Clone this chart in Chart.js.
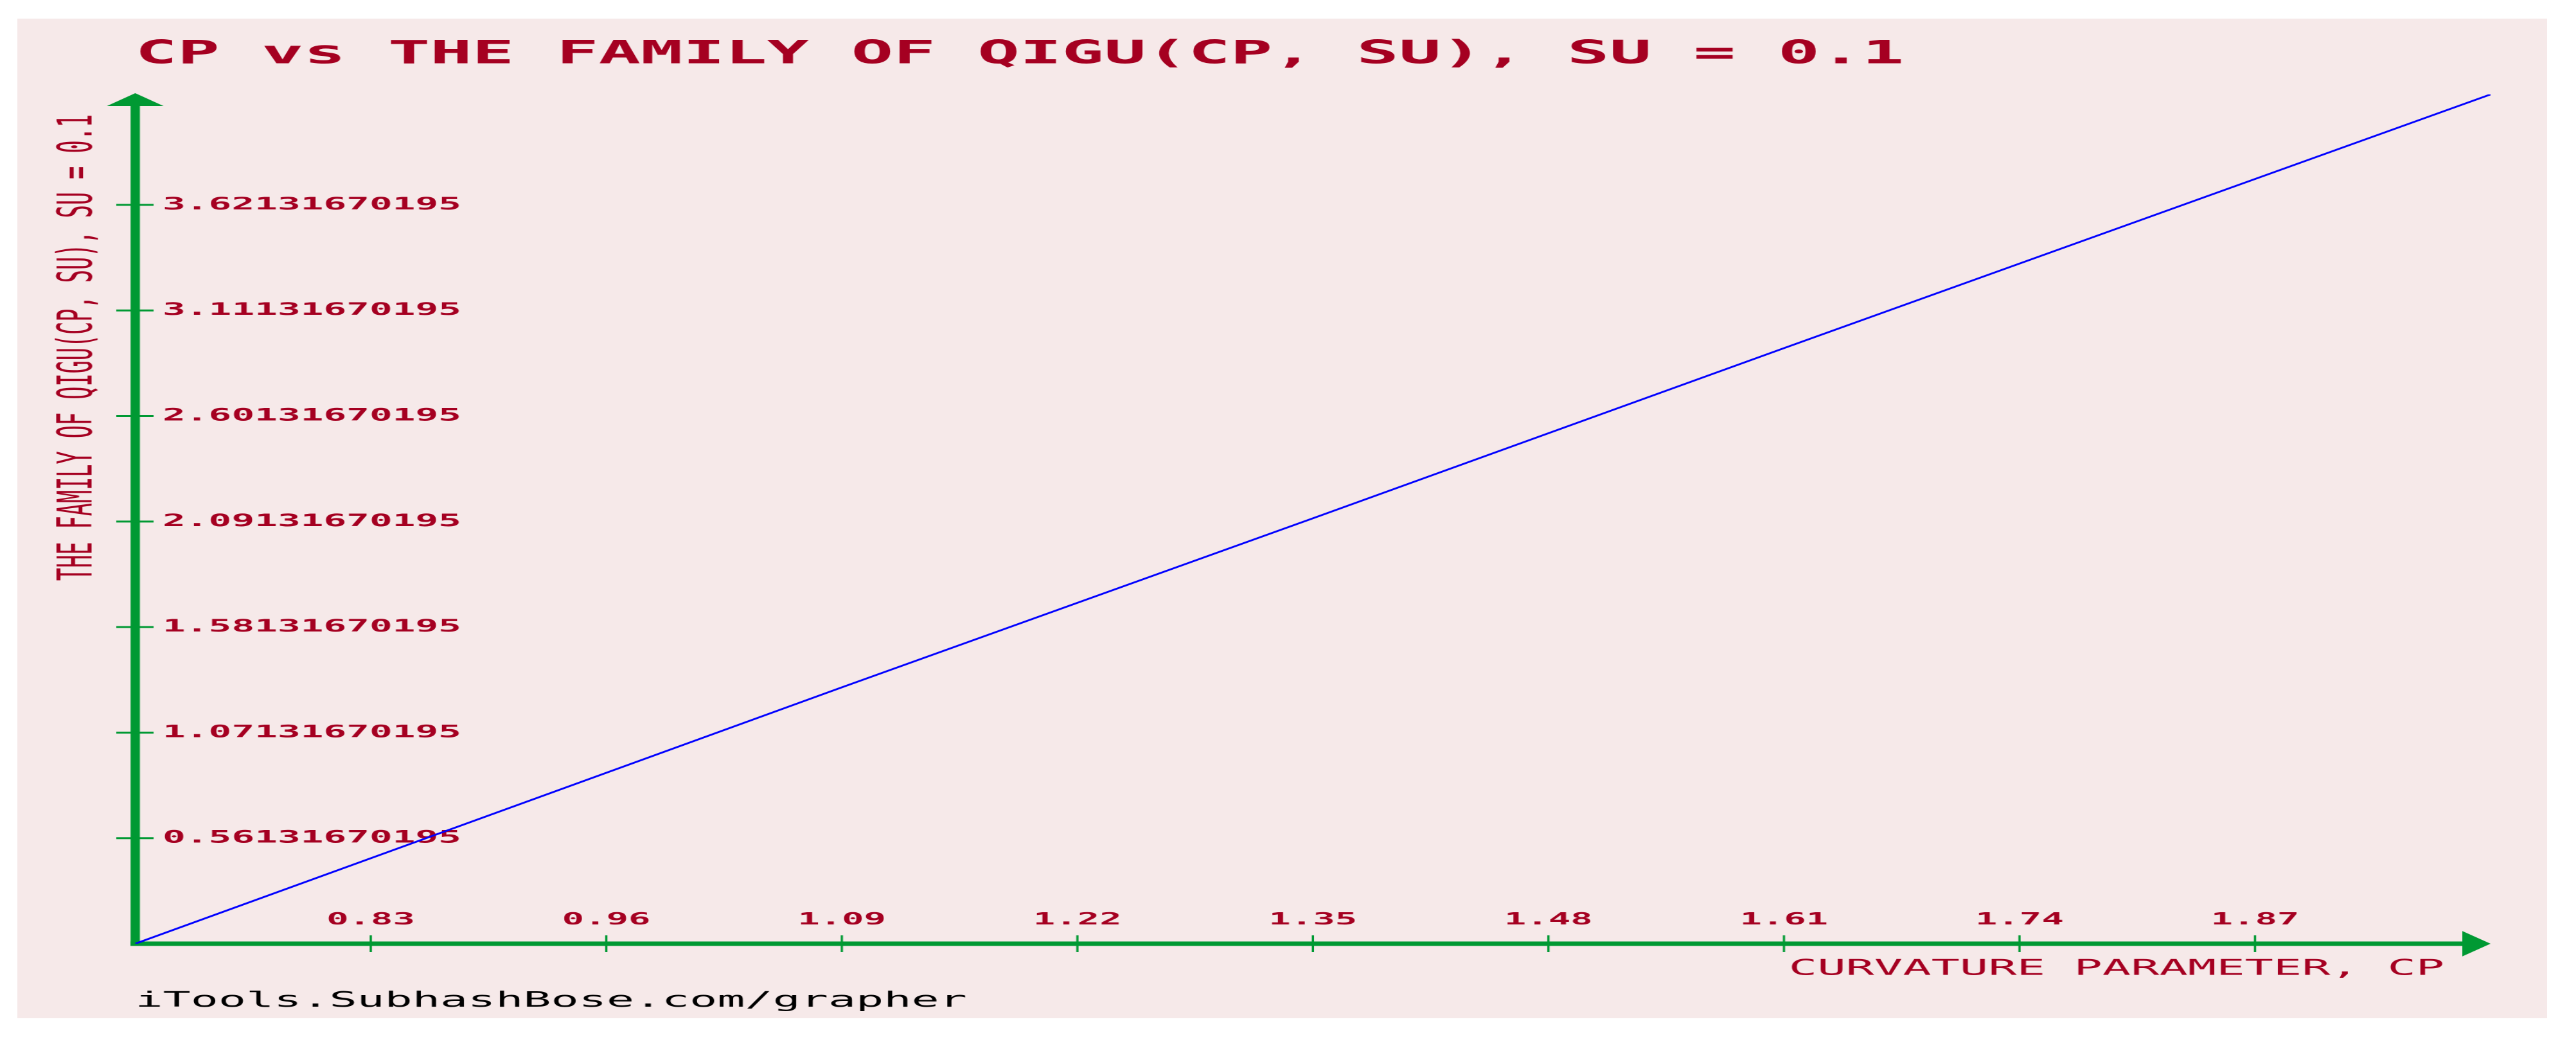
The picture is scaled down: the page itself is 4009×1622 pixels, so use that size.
<!DOCTYPE html>
<html>
<head>
<meta charset="utf-8">
<title>CP vs THE FAMILY OF QIGU(CP, SU)</title>
<script src="https://cdn.jsdelivr.net/npm/chart.js@4.4.1/dist/chart.umd.min.js"></script>
<style>
    html, body { margin:0; padding:0; background:#fff; width:4009px; height:1622px; overflow:hidden; }
    #marco { position:absolute; left:27px; top:29px; width:3937px; height:1556px; background:#f6e9e9; }
    /* the grapher image is a small bitmap stretched sideways, so the canvas is too */
    #grafica { position:absolute; left:0; top:0; transform-origin:0 0; transform:scaleX(2.19944); }
</style>
</head>
<body>
<div id="marco"><canvas id="grafica" width="1790" height="1556"></canvas></div>
<script>
// ============================================================
// DATA
// ============================================================
const chartTitle = 'CP vs THE FAMILY OF QIGU(CP, SU), SU = 0.1';
const xTitle = 'CURVATURE PARAMETER, CP';
const yTitle = 'THE FAMILY OF QIGU(CP, SU), SU = 0.1';
const footer = 'iTools.SubhashBose.com/grapher';

const cpValues   = [0.7, 1.09, 1.35, 1.61, 2.0];
const qiguValues = [0.0513, 1.290, 2.107, 2.929, 4.155];

const xTickValues = [0.83, 0.96, 1.09, 1.22, 1.35, 1.48, 1.61, 1.74, 1.87];
const xTickLabels = ['0.83', '0.96', '1.09', '1.22', '1.35', '1.48', '1.61', '1.74', '1.87'];
const yTickValues = [0.56131670195, 1.07131670195, 1.58131670195, 2.09131670195,
                     2.60131670195, 3.11131670195, 3.62131670195];
const yTickLabels = ['0.56131670195', '1.07131670195', '1.58131670195', '2.09131670195',
                     '2.60131670195', '3.11131670195', '3.62131670195'];

const xMin = 0.7, xMax = 2.0;
const yMin = 0.05131670195, yMax = 4.155;

const rojo = '#a50021';
const verde = '#009933';
const azul = '#0000ff';
const mono = '"DejaVu Sans Mono", monospace';

// ============================================================
// AXES: green lines, arrow heads, crossing ticks, axis titles
// ============================================================
const ejesPlugin = {
    id: 'ejes',
    beforeDatasetsDraw(chart) {
        const ctx = chart.ctx;
        const xs = chart.scales.x;
        const ys = chart.scales.y;
        const x0 = xs.getPixelForValue(xMin);
        const x1 = xs.getPixelForValue(xMax);
        const y0 = ys.getPixelForValue(yMin);
        const y1 = ys.getPixelForValue(yMax);

        ctx.save();
        ctx.fillStyle = verde;
        ctx.strokeStyle = verde;

        // y axis + arrow
        ctx.fillRect(x0 - 3.3, y1 + 10, 6.6, y0 - y1 - 6.5);
        ctx.beginPath();
        ctx.moveTo(x0, y1 - 2);
        ctx.lineTo(x0 + 20, y1 + 18);
        ctx.lineTo(x0 - 20, y1 + 18);
        ctx.closePath();
        ctx.fill();

        // x axis + arrow
        ctx.fillRect(x0 - 3.3, y0 - 3.5, x1 - 20 - x0 + 3.3, 7);
        ctx.beginPath();
        ctx.moveTo(x1, y0);
        ctx.lineTo(x1 - 20, y0 - 19.7);
        ctx.lineTo(x1 - 20, y0 + 19.7);
        ctx.closePath();
        ctx.fill();

        // tick marks
        ctx.lineWidth = 3;
        yTickValues.forEach(v => {
            const y = ys.getPixelForValue(v);
            ctx.beginPath();
            ctx.moveTo(x0 - 13.4, y);
            ctx.lineTo(x0 + 13, y);
            ctx.stroke();
        });
        ctx.lineWidth = 1.6;
        xTickValues.forEach(v => {
            const x = xs.getPixelForValue(v);
            ctx.beginPath();
            ctx.moveTo(x, y0 - 13);
            ctx.lineTo(x, y0 + 13);
            ctx.stroke();
        });

        // axis titles
        ctx.fillStyle = rojo;
        ctx.font = '33.5px ' + mono;
        ctx.textBaseline = 'middle';
        ctx.textAlign = 'right';
        ctx.fillText(xTitle, x1 - 32.7, y0 + 40);
        ctx.translate(x0 - 39.8, y1 + 31);
        ctx.rotate(-Math.PI / 2);
        ctx.fillText(yTitle, 0, 0);
        ctx.restore();
    }
};

// ============================================================
// CHART
// ============================================================
const ctx = document.getElementById('grafica').getContext('2d');

new Chart(ctx, {
    type: 'line',
    data: {
        datasets: [{
            data: cpValues.map((cp, i) => ({ x: cp, y: qiguValues[i] })),
            borderColor: azul,
            borderWidth: 2.4,
            pointRadius: 0,
            tension: 0,
            fill: false
        }]
    },
    plugins: [ejesPlugin],
    options: {
        responsive: false,
        animation: false,
        devicePixelRatio: 2,
        layout: { padding: { left: 83.4, right: 40, top: 0, bottom: 0 } },
        plugins: {
            legend: { display: false },
            tooltip: { enabled: false },
            title: {
                display: true,
                text: chartTitle,
                align: 'start',
                fullSize: false,
                color: rojo,
                font: { family: mono, size: 49.5, weight: 'bold', lineHeight: 1 },
                padding: { top: 31.75, bottom: 36.75 }
            },
            subtitle: {
                display: true,
                position: 'bottom',
                text: footer,
                align: 'start',
                fullSize: false,
                color: '#000000',
                font: { family: mono, size: 32.6, lineHeight: 1 },
                padding: { top: 13.4, bottom: 10 }
            }
        },
        scales: {
            x: {
                type: 'linear',
                position: 'bottom',
                min: xMin,
                max: xMax,
                grid: { display: false, drawTicks: false },
                border: { display: false },
                afterBuildTicks: (scale) => { scale.ticks = xTickValues.map(v => ({ value: v })); },
                afterFit: (scale) => { scale.height = 60; },
                ticks: {
                    // labels sit above the axis line, inside the plot
                    mirror: true,
                    autoSkip: false,
                    maxRotation: 0,
                    minRotation: 0,
                    padding: 24,
                    color: rojo,
                    font: { family: mono, size: 26, weight: 'bold', lineHeight: 1 },
                    callback: (value, index) => xTickLabels[index]
                }
            },
            y: {
                type: 'linear',
                position: 'left',
                min: yMin,
                max: yMax,
                grid: { display: false, drawTicks: false },
                border: { display: false },
                afterBuildTicks: (scale) => { scale.ticks = yTickValues.map(v => ({ value: v })); },
                afterFit: (scale) => { scale.width = 0; },
                ticks: {
                    mirror: true,
                    padding: 19.4,
                    color: rojo,
                    font: { family: mono, size: 27, weight: 'bold', lineHeight: 1 },
                    callback: (value, index) => yTickLabels[index]
                }
            }
        }
    }
});
</script>
</body>
</html>
